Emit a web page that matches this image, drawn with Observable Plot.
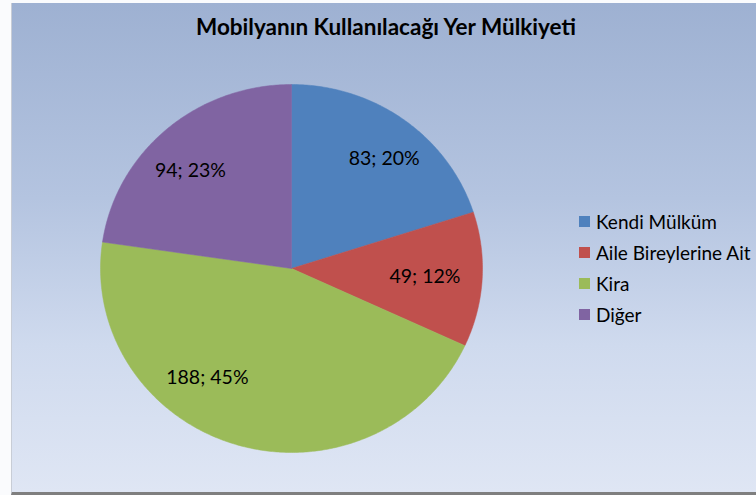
<!DOCTYPE html>
<html>
<head>
<meta charset="utf-8">
<script src="https://cdn.jsdelivr.net/npm/d3@7"></script>
<script src="https://cdn.jsdelivr.net/npm/@observablehq/plot@0.6"></script>
<style>
  html, body { margin: 0; padding: 0; background: #ffffff; }
  #wrap { position: relative; width: 756px; height: 495px; overflow: hidden; background: #fafbfd; }
  #panel { position: absolute; left: 11px; top: 3px; width: 760px; height: 489px;
           background: linear-gradient(to bottom, #9eb1d2 0%, #b4c4e0 40%, #cfdaee 70%, #dfe6f4 100%);
           border-left: 1px solid #c8cdd6; border-bottom: 3px solid #7f7f7f; }
  #title { position: absolute; left: 0; width: 772px; top: 13px; text-align: center;
           font-family: Lato, "Open Sans", sans-serif; font-weight: bold; font-size: 22.5px; color: #000; }
  #chart { position: absolute; left: 0; top: 0; }
  #legend { position: absolute; left: 579px; top: 206px; font-family: Lato, "Open Sans", sans-serif; font-size: 19px; color: #000; }
  .item { height: 31px; display: flex; align-items: center; white-space: nowrap; }
  .sw { width: 11px; height: 11px; margin-right: 6px; }
</style>
</head>
<body>
<div id="wrap">
  <div id="panel"></div>
  <div id="chart"></div>
  <div id="title"></div>
  <div id="legend"></div>
</div>
<script>
const title = "Mobilyanın Kullanılacağı Yer Mülkiyeti";
const categories = ["Kendi Mülküm", "Aile Bireylerine Ait", "Kira", "Diğer"];
const values = [83, 49, 188, 94];
const percents = ["20%", "12%", "45%", "23%"];
const colors = ["#4f81bd", "#c0504d", "#9bbb59", "#8064a2"];
// label placement (style/layout, not data): angle nudges in degrees and radius fraction
const labelAngleNudge = [3, 0, 20, -4];
const labelRadius = [0.77, 0.70, 0.74, 0.75];

document.getElementById("title").textContent = title;

const total = d3.sum(values);
let acc = 0;
const slices = values.map((v, i) => {
  const a0 = acc / total * 2 * Math.PI;
  acc += v;
  const a1 = acc / total * 2 * Math.PI;
  return {name: categories[i], value: v, a0, a1, i};
});

const pts = [];
for (const s of slices) {
  pts.push({name: s.name, x: 0, y: 0});
  const n = Math.max(8, Math.ceil((s.a1 - s.a0) / 0.01));
  for (let k = 0; k <= n; k++) {
    const a = s.a0 + (s.a1 - s.a0) * k / n;
    pts.push({name: s.name, x: Math.sin(a), y: -Math.cos(a)});
  }
  pts.push({name: s.name, x: 0, y: 0});
}

const labels = slices.map(s => {
  const a = (s.a0 + s.a1) / 2 + labelAngleNudge[s.i] * Math.PI / 180;
  const r = labelRadius[s.i];
  return {x: r * Math.sin(a), y: -r * Math.cos(a), text: `${s.value}; ${percents[s.i]}`};
});

const plot = Plot.plot({
  width: 756,
  height: 495,
  margin: 0,
  style: {background: "transparent", fontFamily: "Lato, 'Open Sans', sans-serif"},
  x: {domain: [-1, 1], range: [100, 482], axis: null},
  y: {domain: [-1, 1], range: [84, 452], axis: null},
  color: {domain: categories, range: colors},
  marks: [
    Plot.line(pts, {x: "x", y: "y", z: "name", fill: "name", stroke: "name", strokeWidth: 0.5, curve: "linear"}),
    Plot.text(labels, {x: "x", y: "y", text: "text", fontSize: 19.5, fill: "#000"})
  ]
});
document.getElementById("chart").appendChild(plot);

const leg = document.getElementById("legend");
categories.forEach((c, i) => {
  const d = document.createElement("div");
  d.className = "item";
  d.innerHTML = `<span class="sw" style="background:${colors[i]}"></span><span>${c}</span>`;
  leg.appendChild(d);
});
</script>
</body>
</html>
